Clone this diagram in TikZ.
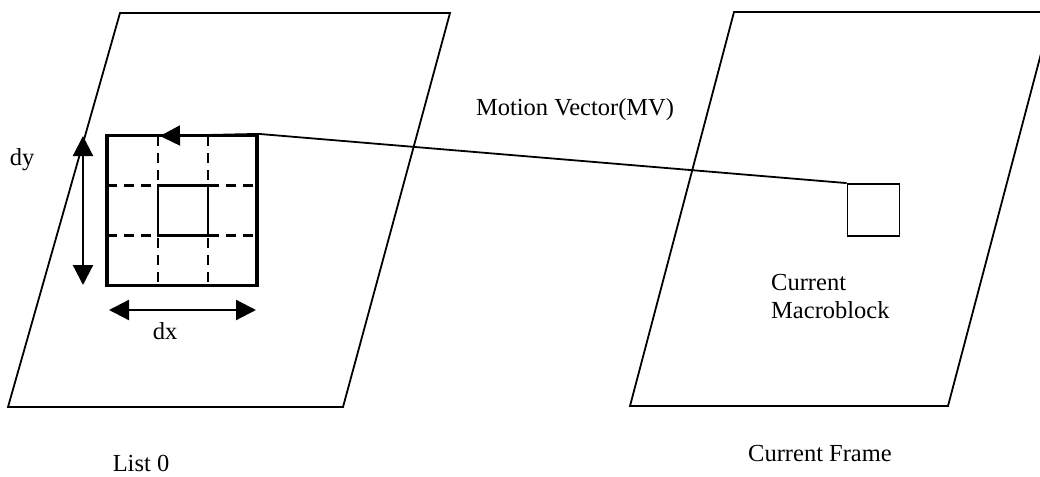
\documentclass[tikz,border=0pt]{standalone}
\usepackage{fontspec}
\setmainfont{Liberation Serif}
\usetikzlibrary{arrows.meta}
\begin{document}
\begin{tikzpicture}[x=1pt,y=-1pt,
  frame/.style={line width=1.8pt, line join=miter},
  blockgrid/.style={draw, line width=3.2pt, minimum size=150pt, inner sep=0pt},
  gridline/.style={line width=2.8pt, dash pattern=on 10pt off 7pt},
  cell/.style={draw, line width=2.8pt, minimum size=50pt, inner sep=0pt},
  mbbox/.style={draw, line width=1.8pt, minimum size=52pt, inner sep=0pt},
  lbl/.style={inner sep=0pt, font=\fontsize{24.5}{28}\selectfont},
  bigtip/.style={-{Triangle[length=20pt,width=20pt]}},
  bothtip/.style={{Triangle[length=20pt,width=20pt]}-{Triangle[length=20pt,width=20pt]}}]
\useasboundingbox (0,0) rectangle (1040,476);
\clip (0,0) rectangle (1040,476);
\fill[white] (0,0) rectangle (1040,476);

% reference frame (List 0) and current frame
\draw[frame] (120,13) -- (450,13) -- (343,407) -- (8,407) -- cycle;
\draw[frame] (734,12) -- (1052,12) -- (948,406) -- (630,406) -- cycle;

% search block with its 3x3 subdivision
\node[blockgrid] (ref) at (182,210.5) {};
\draw[gridline] (158,136) -- (158,285);
\draw[gridline] (208,136) -- (208,285);
\draw[gridline] (107,185.5) -- (257,185.5);
\draw[gridline] (107,235.5) -- (257,235.5);
\node[cell] (best) at (183,210.5) {};

% current macroblock
\node[mbbox] (mb) at (873.5,210) {};

% motion vector
\coordinate (tip) at (160,136);
\draw[line width=1.8pt, bigtip] (mb.north west) -- (ref.north east) -- (tip);

% displacement ranges
\coordinate (dyTop) at (83,136);
\coordinate (dyBot) at (83,285);
\coordinate (dxL) at (109,310);
\coordinate (dxR) at (256,310);
\draw[line width=2.2pt, bothtip] (dyBot) -- (dyTop);
\draw[line width=2.2pt, bothtip] (dxL) -- (dxR);

% labels
\node[lbl] (dy) at (22,160) {dy};
\node[lbl] (dx) at (165,331) {dx};
\node[lbl] (mv) at (575,110) {Motion Vector(MV)};
\node[lbl, align=left, anchor=west] (mbl) at (771,297) {Current\\Macroblock};
\node[lbl] (l0) at (141,463) {List 0};
\node[lbl] (cf) at (820,454) {Current Frame};
\end{tikzpicture}
\end{document}
